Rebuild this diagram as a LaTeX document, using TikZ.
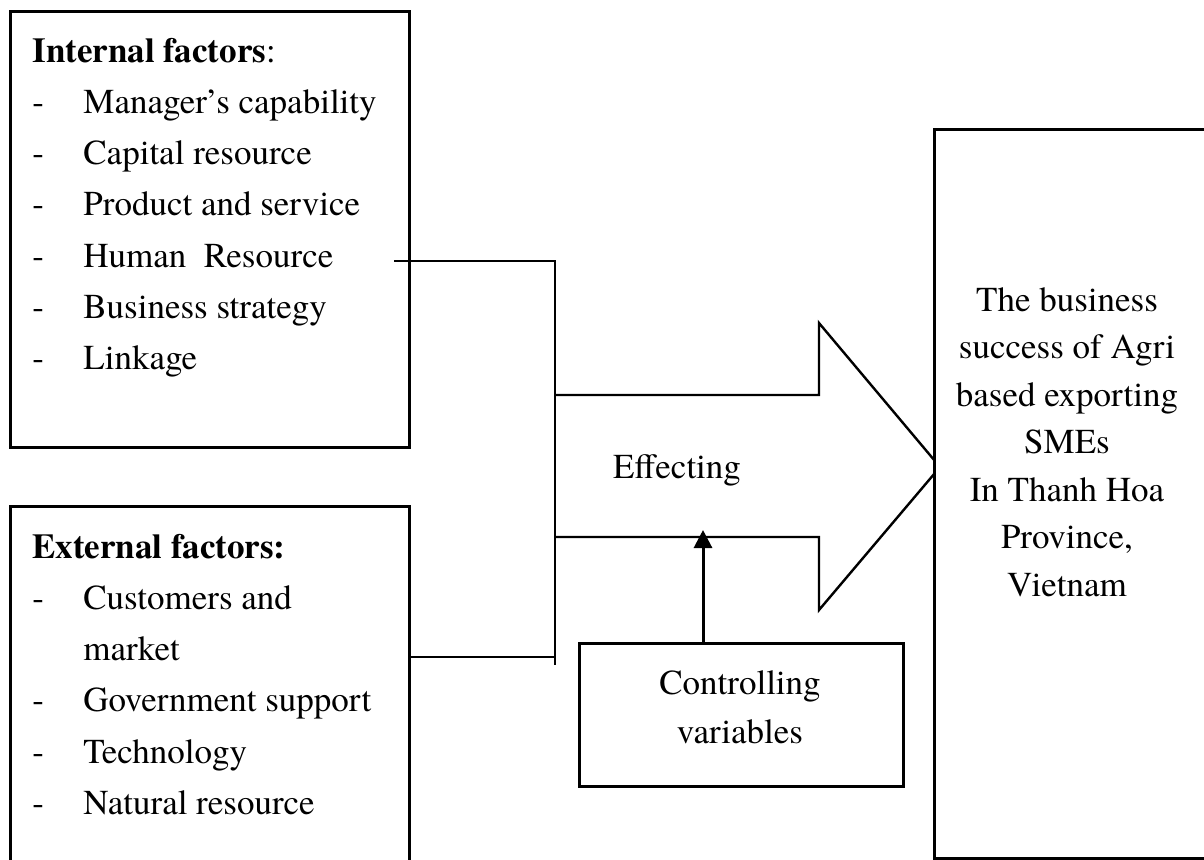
\documentclass[tikz,border=0pt]{standalone}
\usepackage{fontspec}
\setmainfont{texgyretermes}[Extension=.otf, UprightFont=*-regular, BoldFont=*-bold, ItalicFont=*-italic, BoldItalicFont=*-bolditalic]
\usetikzlibrary{arrows.meta}
\newcommand\dashitem[1]{\makebox[25.5pt][l]{-}#1}
\begin{document}
\begin{tikzpicture}[x=0.5pt,y=-0.5pt,
  box/.style={draw, line width=1.5pt, inner sep=0pt, fill=white},
  thinline/.style={line width=1pt},
  bigarrow/.style={line width=1.2pt, line join=miter},
  ctrlarrow/.style={line width=1.5pt, -{Triangle[length=9pt,width=9pt]}},
  listtxt/.style={inner sep=0pt, anchor=base west, font=\fontsize{17.5}{25.65}\selectfont},
  centertxt/.style={inner sep=0pt, font=\fontsize{17.5}{23.75}\selectfont}]
\clip (0,0) rectangle (1204,859);
\fill[white] (0,0) rectangle (1204,859);

% boxes
\node[box, minimum width=199.5pt, minimum height=218pt, anchor=north west] (int) at (9,10) {};
\node[box, minimum width=199.5pt, minimum height=190pt, anchor=north west] (ext) at (9,505) {};

% texts of the factor boxes
\node[listtxt] (inttxt) at (32,62) {\begin{tabular}[t]{@{}l@{}}
\textbf{Internal factors}:\\
\dashitem{Manager’s capability}\\
\dashitem{Capital resource}\\
\dashitem{Product and service}\\
\dashitem{Human~ Resource}\\
\dashitem{Business strategy}\\
\dashitem{Linkage}
\end{tabular}};
\node[listtxt] (exttxt) at (32,558) {\begin{tabular}[t]{@{}l@{}}
\textbf{External factors:}\\
\dashitem{Customers and}\\
\makebox[25.5pt]{}market\\
\dashitem{Government support}\\
\dashitem{Technology}\\
\dashitem{Natural resource}
\end{tabular}};

% connectors joining the factor boxes
\coordinate (s1) at (394,261);
\coordinate (j1) at (555,261);
\coordinate (j2) at (555,657);
\coordinate (jend) at (555,665);
\draw[thinline] (s1) -- (j1) -- (jend);
\draw[thinline] (ext.east |- j2) -- (j2);

% big arrow
\draw[bigarrow] (555,395) -- (819,395) -- (819,323) -- (940,467) -- (819,610) -- (819,537) -- (555,537);
\node[centertxt] (eff) at (677,470) {Effecting};

% outcome box
\node[box, minimum width=143.5pt, minimum height=364.5pt, anchor=north west] (out) at (933,128) {};
\node[centertxt, anchor=base] (outtxt) at (1067,311) {\begin{tabular}[t]{@{}c@{}}
The business\\
success of Agri\\
based exporting\\
SMEs\\
In Thanh Hoa\\
Province,\\
Vietnam
\end{tabular}};

% controlling variables
\node[box, minimum width=162pt, minimum height=71.5pt, anchor=north west] (ctrl) at (578,642) {};
\node[inner sep=0pt, anchor=base, font=\fontsize{17.5}{24.5}\selectfont] (ctrltxt) at (740,694) {\begin{tabular}[t]{@{}c@{}}
Controlling\\
variables
\end{tabular}};
\coordinate (ctip) at (703,530);
\draw[ctrlarrow] (ctrl.north -| ctip) -- (ctip);
\end{tikzpicture}
\end{document}
